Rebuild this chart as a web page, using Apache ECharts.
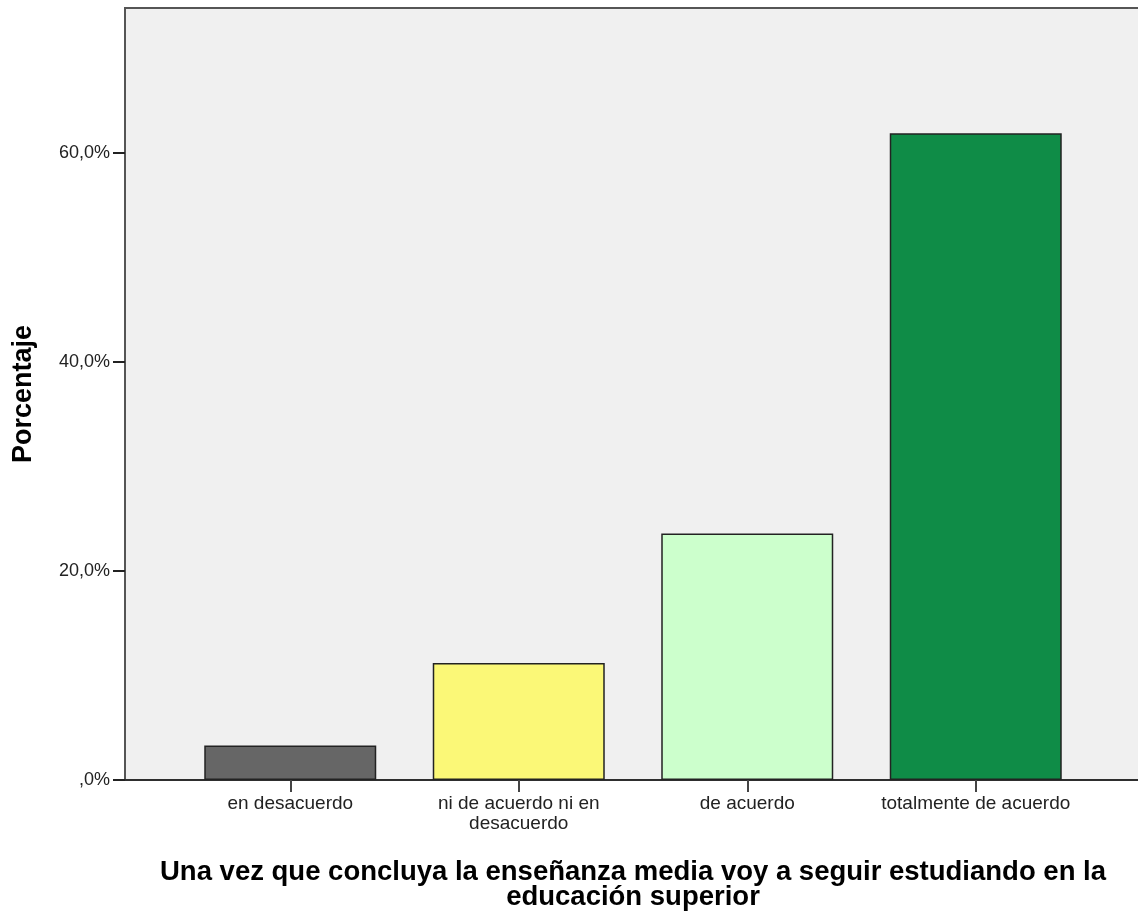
<!DOCTYPE html>
<html>
<head>
<meta charset="utf-8">
<script src="https://cdn.jsdelivr.net/npm/echarts@6/dist/echarts.min.js"></script>
<style>html,body{margin:0;padding:0;background:#fff}#c{width:1138px;height:913px}</style>
</head>
<body>
<div id="c"></div>
<script>
const categories = ['en desacuerdo', 'ni de acuerdo ni en\ndesacuerdo', 'de acuerdo', 'totalmente de acuerdo'];
const values = [3.3, 11.2, 23.6, 61.9];
const barColors = ['#666666', '#fbf877', '#ccffcc', '#0f8c47'];
const yTicks = [0, 20, 40, 60];
const yMax = 73.9;
const xTitle = 'Una vez que concluya la enseñanza media voy a seguir estudiando en la\neducación superior';
const yTitle = 'Porcentaje';

const fmt = v => (v === 0 ? '' : String(Math.round(v))) + ',0%';
const chart = echarts.init(document.getElementById('c'));
chart.setOption({
  animation: false,
  textStyle: { fontFamily: 'Liberation Sans, Arial, sans-serif' },
  grid: [
    { left: 125, top: 8, right: -3, bottom: 133, containLabel: false, outerBoundsMode: 'none', show: true, backgroundColor: '#f0f0f0', borderColor: '#555555', borderWidth: 2 },
    { left: 176, top: 8, right: 48, bottom: 133, containLabel: false, outerBoundsMode: 'none' }
  ],
  xAxis: [
    { gridIndex: 0, type: 'value', min: 0, max: 1, axisLine: { show: true, onZero: false, lineStyle: { color: '#222', width: 1.5 } }, axisTick: { show: false }, axisLabel: { show: false }, splitLine: { show: false } },
    { gridIndex: 1, type: 'category', data: categories, axisLine: { show: false },
      axisTick: { show: true, alignWithLabel: true, length: 12, lineStyle: { color: '#444', width: 2 } },
      axisLabel: { interval: 0, color: '#222', fontSize: 19, margin: 14, lineHeight: 20, hideOverlap: false },
      name: xTitle, nameLocation: 'middle', nameGap: 80,
      nameTextStyle: { fontSize: 27.5, fontWeight: 'bold', color: '#000', lineHeight: 25 } }
  ],
  yAxis: [
    { gridIndex: 0, type: 'value', min: 0, max: yMax, interval: 20,
      axisLine: { show: true, lineStyle: { color: '#555', width: 2 } },
      axisTick: { show: true, length: 12, customValues: yTicks, lineStyle: { color: '#222', width: 2 } },
      axisLabel: { customValues: yTicks, formatter: fmt, fontSize: 18, color: '#222', margin: 15 },
      splitLine: { show: false },
      name: yTitle, nameLocation: 'middle', nameGap: 88, nameRotate: 90,
      nameTextStyle: { fontSize: 27, fontWeight: 'bold', color: '#000' } },
    { gridIndex: 1, type: 'value', min: 0, max: yMax, show: false, splitLine: { show: false } }
  ],
  series: [{
    type: 'bar', xAxisIndex: 1, yAxisIndex: 1, barWidth: 172,
    data: values.map((v, i) => ({ value: v, itemStyle: { color: barColors[i] } })),
    itemStyle: { borderColor: '#222', borderWidth: 1.5 }
  }]
});
</script>
</body>
</html>
